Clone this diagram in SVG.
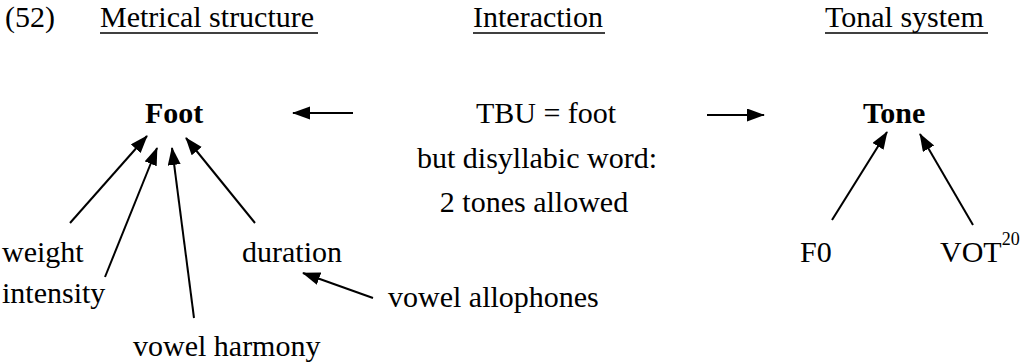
<svg xmlns="http://www.w3.org/2000/svg" width="1026" height="364" viewBox="0 0 1026 364">
<style>
.t{font-family:'Liberation Serif','Times New Roman','DejaVu Serif',serif;font-size:30px;fill:#000}
.b{font-weight:bold}
.u{stroke:#000;stroke-width:1.5}
.c line{stroke:#000;stroke-width:2;marker-end:url(#ah)}
</style>
<defs>
<marker id="ah" markerUnits="userSpaceOnUse" markerWidth="20" markerHeight="14" refX="17" refY="6.5" orient="auto">
<path d="M0,0 L18,6.5 L0,13 z" fill="#000"/>
</marker>
</defs>
<rect width="1026" height="364" fill="#fff"/>
<g id="header" class="t" font-family="Liberation Serif, serif">
<text x="5" y="27">(52)</text>
<text x="100" y="27">Metrical structure</text>
<line class="u" x1="100" y1="33" x2="318" y2="33"/>
<text x="473" y="27">Interaction</text>
<line class="u" x1="473" y1="33" x2="605" y2="33"/>
<text x="825" y="27">Tonal system</text>
<line class="u" x1="825" y1="33" x2="988" y2="33"/>
</g>
<g id="foot" class="t" font-family="Liberation Serif, serif"><text class="b" x="145" y="123">Foot</text></g>
<g id="tone" class="t" font-family="Liberation Serif, serif"><text class="b" x="863" y="123">Tone</text></g>
<g id="interaction" class="t" font-family="Liberation Serif, serif">
<text x="546" y="123" text-anchor="middle">TBU = foot</text>
<text x="537" y="168" text-anchor="middle">but disyllabic word:</text>
<text x="534" y="212" text-anchor="middle">2 tones allowed</text>
</g>
<g id="weight" class="t" font-family="Liberation Serif, serif"><text x="2" y="262">weight</text></g>
<g id="intensity" class="t" font-family="Liberation Serif, serif"><text x="2" y="303">intensity</text></g>
<g id="vowel-harmony" class="t" font-family="Liberation Serif, serif"><text x="133" y="356">vowel harmony</text></g>
<g id="duration" class="t" font-family="Liberation Serif, serif"><text x="242" y="262">duration</text></g>
<g id="vowel-allophones" class="t" font-family="Liberation Serif, serif"><text x="388" y="307">vowel allophones</text></g>
<g id="f0" class="t" font-family="Liberation Serif, serif"><text x="800" y="262">F0</text></g>
<g id="vot" class="t" font-family="Liberation Serif, serif"><text x="940" y="262">VOT<tspan font-size="18" dy="-17">20</tspan></text></g>
<g id="connectors" class="c">
<line x1="70" y1="223" x2="147" y2="136"/>
<line x1="105" y1="277" x2="157" y2="148"/>
<line x1="194" y1="318" x2="172" y2="148"/>
<line x1="255" y1="223" x2="186" y2="138"/>
<line x1="373" y1="298" x2="303" y2="273"/>
<line x1="353" y1="113" x2="293" y2="113"/>
<line x1="707" y1="115" x2="764" y2="115"/>
<line x1="832" y1="220" x2="887" y2="132"/>
<line x1="973" y1="225" x2="920" y2="134"/>
</g>
</svg>
